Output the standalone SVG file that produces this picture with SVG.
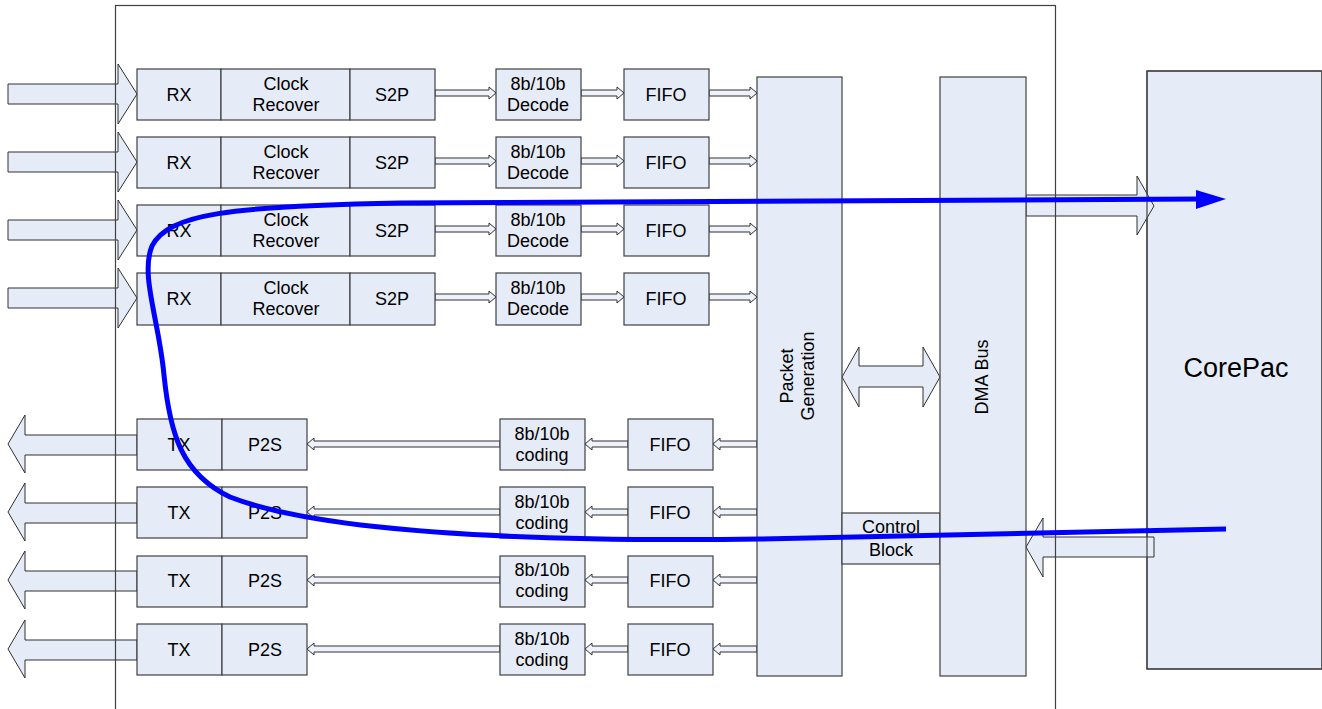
<svg xmlns="http://www.w3.org/2000/svg" width="1322" height="709" viewBox="0 0 1322 709">
<style>
.b{fill:#e6ecf7;stroke:#404040;stroke-width:1.2}
.ar{fill:#e6ecf7;stroke:#303030;stroke-width:1}
.sa{fill:#eef2fa;stroke:#303030;stroke-width:1}
.ol{fill:none;stroke:#404040;stroke-width:1.2}
text{font-family:"Liberation Sans",Arial,sans-serif;font-size:18px;fill:#000;text-anchor:middle}
</style>
<rect width="1322" height="709" fill="#fff"/>
<g id="corepac"><rect class="b" x="1147" y="71" width="175" height="598"/></g>

<g id="connectors">
<path class="ar" d="M8 84H118V64L137 94L118 124V104H8Z"/>
<path class="ar" d="M8 152H118V132L137 162L118 192V172H8Z"/>
<path class="ar" d="M8 220H118V200L137 230L118 260V240H8Z"/>
<path class="ar" d="M8 288H118V268L137 298L118 328V308H8Z"/>
<path class="ar" d="M137 435H25V415L8 444L25 473V455H137Z"/>
<path class="ar" d="M137 503H25V483L8 512L25 541V523H137Z"/>
<path class="ar" d="M137 571H25V551L8 580L25 609V591H137Z"/>
<path class="ar" d="M137 640H25V620L8 649L25 678V660H137Z"/>
<g id="rxarrows">
<path class="sa" d="M435 90H489V87L496 93L489 99V96H435Z"/>
<path class="sa" d="M581 90H617V87L624 93L617 99V96H581Z"/>
<path class="sa" d="M709 90H750V87L757 93L750 99V96H709Z"/>
<path class="sa" d="M435 158H489V155L496 161L489 167V164H435Z"/>
<path class="sa" d="M581 158H617V155L624 161L617 167V164H581Z"/>
<path class="sa" d="M709 158H750V155L757 161L750 167V164H709Z"/>
<path class="sa" d="M435 226H489V223L496 229L489 235V232H435Z"/>
<path class="sa" d="M581 226H617V223L624 229L617 235V232H581Z"/>
<path class="sa" d="M709 226H750V223L757 229L750 235V232H709Z"/>
<path class="sa" d="M435 294H489V291L496 297L489 303V300H435Z"/>
<path class="sa" d="M581 294H617V291L624 297L617 303V300H581Z"/>
<path class="sa" d="M709 294H750V291L757 297L750 303V300H709Z"/>
</g>
<g id="txarrows">
<path class="sa" d="M757 441H720V438L713 444L720 450V447H757Z"/>
<path class="sa" d="M628 441H592V438L585 444L592 450V447H628Z"/>
<path class="sa" d="M500 441H314V438L307 444L314 450V447H500Z"/>
<path class="sa" d="M757 509H720V506L713 512L720 518V515H757Z"/>
<path class="sa" d="M628 509H592V506L585 512L592 518V515H628Z"/>
<path class="sa" d="M500 509H314V506L307 512L314 518V515H500Z"/>
<path class="sa" d="M757 577H720V574L713 580L720 586V583H757Z"/>
<path class="sa" d="M628 577H592V574L585 580L592 586V583H628Z"/>
<path class="sa" d="M500 577H314V574L307 580L314 586V583H500Z"/>
<path class="sa" d="M757 646H720V643L713 649L720 655V652H757Z"/>
<path class="sa" d="M628 646H592V643L585 649L592 655V652H628Z"/>
<path class="sa" d="M500 646H314V643L307 649L314 655V652H500Z"/>
</g>
<path class="ar" d="M842 377L859 347V366H923V347L940 377L923 407V387H859V407Z"/>
<path class="ar" d="M1026 195H1137V176L1154 206L1137 235V216H1026Z"/>
<path class="ar" d="M1154 537H1043V518L1026 547L1043 577V557H1154Z"/>
</g>

<g id="rx1"><rect class="b" x="137" y="69" width="84" height="51"/><text x="179" y="101">RX</text></g>
<g id="cr1"><rect class="b" x="221" y="69" width="129" height="51"/><text x="286" y="90">Clock</text><text x="286" y="111">Recover</text></g>
<g id="s2p1"><rect class="b" x="350" y="69" width="85" height="51"/><text x="392" y="101">S2P</text></g>
<g id="dec1"><rect class="b" x="496" y="69" width="85" height="51"/><text x="538" y="90">8b/10b</text><text x="538" y="111">Decode</text></g>
<g id="fifo1"><rect class="b" x="624" y="69" width="85" height="51"/><text x="666" y="101">FIFO</text></g>

<g id="rx2"><rect class="b" x="137" y="137" width="84" height="51"/><text x="179" y="169">RX</text></g>
<g id="cr2"><rect class="b" x="221" y="137" width="129" height="51"/><text x="286" y="158">Clock</text><text x="286" y="179">Recover</text></g>
<g id="s2p2"><rect class="b" x="350" y="137" width="85" height="51"/><text x="392" y="169">S2P</text></g>
<g id="dec2"><rect class="b" x="496" y="137" width="85" height="51"/><text x="538" y="158">8b/10b</text><text x="538" y="179">Decode</text></g>
<g id="fifo2"><rect class="b" x="624" y="137" width="85" height="51"/><text x="666" y="169">FIFO</text></g>

<g id="rx3"><rect class="b" x="137" y="205" width="84" height="51"/><text x="179" y="237">RX</text></g>
<g id="cr3"><rect class="b" x="221" y="205" width="129" height="51"/><text x="286" y="226">Clock</text><text x="286" y="247">Recover</text></g>
<g id="s2p3"><rect class="b" x="350" y="205" width="85" height="51"/><text x="392" y="237">S2P</text></g>
<g id="dec3"><rect class="b" x="496" y="205" width="85" height="51"/><text x="538" y="226">8b/10b</text><text x="538" y="247">Decode</text></g>
<g id="fifo3"><rect class="b" x="624" y="205" width="85" height="51"/><text x="666" y="237">FIFO</text></g>

<g id="rx4"><rect class="b" x="137" y="273" width="84" height="52"/><text x="179" y="305">RX</text></g>
<g id="cr4"><rect class="b" x="221" y="273" width="129" height="52"/><text x="286" y="294">Clock</text><text x="286" y="315">Recover</text></g>
<g id="s2p4"><rect class="b" x="350" y="273" width="85" height="52"/><text x="392" y="305">S2P</text></g>
<g id="dec4"><rect class="b" x="496" y="273" width="85" height="52"/><text x="538" y="294">8b/10b</text><text x="538" y="315">Decode</text></g>
<g id="fifo4"><rect class="b" x="624" y="273" width="85" height="52"/><text x="666" y="305">FIFO</text></g>

<g id="tx1"><rect class="b" x="137" y="419" width="85" height="51"/><text x="179" y="451">TX</text></g>
<g id="p2s1"><rect class="b" x="222" y="419" width="85" height="51"/><text x="265" y="451">P2S</text></g>
<g id="cod1"><rect class="b" x="500" y="419" width="85" height="51"/><text x="542" y="440">8b/10b</text><text x="542" y="461">coding</text></g>
<g id="tfifo1"><rect class="b" x="628" y="419" width="85" height="51"/><text x="670" y="451">FIFO</text></g>

<g id="tx2"><rect class="b" x="137" y="487" width="85" height="51"/><text x="179" y="519">TX</text></g>
<g id="p2s2"><rect class="b" x="222" y="487" width="85" height="51"/><text x="265" y="519">P2S</text></g>
<g id="cod2"><rect class="b" x="500" y="487" width="85" height="51"/><text x="542" y="508">8b/10b</text><text x="542" y="529">coding</text></g>
<g id="tfifo2"><rect class="b" x="628" y="487" width="85" height="51"/><text x="670" y="519">FIFO</text></g>

<g id="tx3"><rect class="b" x="137" y="556" width="85" height="51"/><text x="179" y="587">TX</text></g>
<g id="p2s3"><rect class="b" x="222" y="556" width="85" height="51"/><text x="265" y="587">P2S</text></g>
<g id="cod3"><rect class="b" x="500" y="556" width="85" height="51"/><text x="542" y="576">8b/10b</text><text x="542" y="597">coding</text></g>
<g id="tfifo3"><rect class="b" x="628" y="556" width="85" height="51"/><text x="670" y="587">FIFO</text></g>

<g id="tx4"><rect class="b" x="137" y="624" width="85" height="51"/><text x="179" y="656">TX</text></g>
<g id="p2s4"><rect class="b" x="222" y="624" width="85" height="51"/><text x="265" y="656">P2S</text></g>
<g id="cod4"><rect class="b" x="500" y="624" width="85" height="51"/><text x="542" y="645">8b/10b</text><text x="542" y="666">coding</text></g>
<g id="tfifo4"><rect class="b" x="628" y="624" width="85" height="51"/><text x="670" y="656">FIFO</text></g>

<g id="packetgen"><rect class="b" x="757" y="77" width="85" height="599"/>
<text transform="translate(793 376) rotate(-90)">Packet</text>
<text transform="translate(814 376) rotate(-90)">Generation</text></g>
<g id="control"><rect class="b" x="842" y="513" width="98" height="51"/><text x="891" y="533">Control</text><text x="891" y="556">Block</text></g>
<g id="dmabus"><rect class="b" x="940" y="77" width="86" height="599"/>
<text transform="translate(988 377) rotate(-90)">DMA Bus</text></g>

<g id="frame">
<rect class="ol" x="115.5" y="5.5" width="940" height="730"/>
<rect class="ol" x="1147" y="71" width="175" height="598"/>
<text x="1236" y="377" style="font-size:27px">CorePac</text>
</g>

<g id="flow">
<path d="M1226 529L760 539C520 542 320 532 230 497C182 474 170 435 164 375C159 320 140 275 152 246C168 214 230 206 400 203L1200 199" fill="none" stroke="#0000ff" stroke-width="5"/>
<path d="M1196 190L1226 199L1196 209Z" fill="#0000ff"/>
</g>
</svg>
